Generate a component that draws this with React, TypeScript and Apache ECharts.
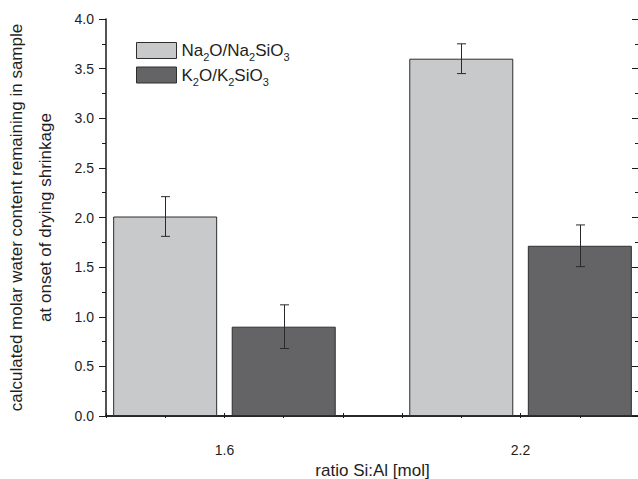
import React, { useEffect, useRef } from "react";
import * as echarts from "echarts";

// ---- data ----
const ratioCategories = [1.6, 2.2];
const xTickValues = [1.36, 1.48, 1.6, 1.72, 1.84, 1.96, 2.08, 2.2, 2.32, 2.44];
const naName = "Na2O/Na2SiO3";
const kName = "K2O/K2SiO3";
const naValues = [2.01, 3.6];
const naErrors = [0.2, 0.15];
const kValues = [0.9, 1.715];
const kErrors = [0.22, 0.21];
const yMin = 0;
const yMax = 4;
const yInterval = 0.5;

const FONT = "'Liberation Sans', Arial, sans-serif";
const TXT = "#1e1e1e";
const AX = "#1a1a1a";
const BAR_W = 104;
const BAR_GAP = 0.14;
const OFFSET = (BAR_W * (1 + BAR_GAP)) / 2;

function errorSeries(name: string, values: number[], errors: number[], sign: number) {
  const data = ratioCategories.map((x, i) => [x, values[i] - errors[i], values[i] + errors[i]]);
  return {
    type: "custom",
    name: name + " error",
    data,
    z: 5,
    silent: true,
    renderItem: (params: any, api: any) => {
      const x = api.value(0);
      const lo = api.coord([x, api.value(1)]);
      const hi = api.coord([x, api.value(2)]);
      const cx = Math.round(lo[0] + sign * OFFSET) + 0.5;
      const cap = 4.5;
      const st = { stroke: "#2a2a2a", lineWidth: 1 };
      return {
        type: "group",
        children: [
          { type: "line", shape: { x1: cx, y1: hi[1], x2: cx, y2: lo[1] }, style: st },
          { type: "line", shape: { x1: cx - cap, y1: hi[1], x2: cx + cap, y2: hi[1] }, style: st },
          { type: "line", shape: { x1: cx - cap, y1: lo[1], x2: cx + cap, y2: lo[1] }, style: st },
        ],
      };
    },
  };
}

function richName(name: string) {
  // turn digits into subscripts
  return name.replace(/([^0-9]+)|([0-9]+)/g, (m, a, d) => (a ? `{n|${a}}` : `{s|${d}}`));
}

export default function App() {
  const ref = useRef<HTMLDivElement>(null);
  useEffect(() => {
    if (!ref.current) return;
    const chart = echarts.init(ref.current, undefined, { renderer: "svg" });
    const xMin = xTickValues[0];
    const xMax = xTickValues[xTickValues.length - 1];
    const option: any = {
      animation: false,
      backgroundColor: "#ffffff",
      textStyle: { fontFamily: FONT },
      grid: { left: 106, top: 19, right: -1, bottom: 63, containLabel: false, outerBoundsMode: "none" },
      legend: {
        show: true,
        orient: "vertical",
        left: 131,
        top: 37,
        icon: "rect",
        itemWidth: 40,
        itemHeight: 16,
        itemGap: 4,
        data: [naName, kName],
        selectedMode: false,
        itemStyle: { borderColor: "#2e2e2e", borderWidth: 1 },
        formatter: (name: string) => richName(name),
        textStyle: {
          fontFamily: FONT,
          fontSize: 17,
          color: TXT,
          rich: {
            n: { fontSize: 17, color: TXT, fontFamily: FONT, lineHeight: 24 },
            s: { fontSize: 11, color: TXT, fontFamily: FONT, lineHeight: 2, verticalAlign: "bottom" },
          },
        },
      },
      xAxis: [
        {
          type: "value",
          position: "bottom",
          min: xMin,
          max: xMax,
          name: "ratio Si:Al [mol]",
          nameLocation: "middle",
          nameGap: 43,
          nameTextStyle: { fontSize: 17, color: TXT, fontFamily: FONT },
          axisLine: { show: true, lineStyle: { color: AX, width: 1.5 } },
          axisTick: { show: true, inside: true, length: 3, customValues: xTickValues, lineStyle: { color: AX } },
          axisLabel: {
            show: true,
            customValues: ratioCategories,
            formatter: (v: number) => v.toFixed(1),
            margin: 27,
            fontSize: 14,
            color: TXT,
            fontFamily: FONT,
          },
          splitLine: { show: false },
        },
        {
          type: "value",
          position: "top",
          min: xMin,
          max: xMax,
          axisLine: { show: true, lineStyle: { color: AX, width: 1.5 } },
          axisTick: { show: true, inside: true, length: 2, customValues: xTickValues, lineStyle: { color: AX } },
          axisLabel: { show: false },
          splitLine: { show: false },
        },
      ],
      yAxis: [
        {
          type: "value",
          position: "left",
          min: yMin,
          max: yMax,
          interval: yInterval,
          name: "calculated molar water content remaining in sample\nat onset of drying shrinkage",
          nameLocation: "middle",
          nameGap: 46,
          nameTextStyle: { fontSize: 17, color: TXT, fontFamily: FONT, lineHeight: 29 },
          axisLine: { show: true, lineStyle: { color: AX, width: 1.5 } },
          axisTick: { show: true, inside: false, length: 7, lineStyle: { color: AX } },
          minorTick: { show: true, splitNumber: 2, length: 4, lineStyle: { color: AX } },
          axisLabel: {
            show: true,
            margin: 12,
            fontSize: 14,
            color: TXT,
            fontFamily: FONT,
            formatter: (v: number) => v.toFixed(1),
          },
          splitLine: { show: false },
        },
        {
          type: "value",
          position: "right",
          min: yMin,
          max: yMax,
          interval: yInterval,
          axisLine: { show: false },
          axisTick: { show: true, inside: true, length: 7, lineStyle: { color: AX } },
          minorTick: { show: true, splitNumber: 2, length: 4, lineStyle: { color: AX } },
          axisLabel: { show: false },
          splitLine: { show: false },
        },
      ],
      series: [
        {
          type: "bar",
          name: naName,
          data: ratioCategories.map((x, i) => [x, naValues[i]]),
          barWidth: BAR_W,
          barGap: "14%",
          itemStyle: { color: "#c8c9cb", borderColor: "#2e2e2e", borderWidth: 1 },
        },
        {
          type: "bar",
          name: kName,
          data: ratioCategories.map((x, i) => [x, kValues[i]]),
          barWidth: BAR_W,
          barGap: "14%",
          itemStyle: { color: "#646466", borderColor: "#2e2e2e", borderWidth: 1 },
        },
        errorSeries(naName, naValues, naErrors, -1),
        errorSeries(kName, kValues, kErrors, 1),
      ],
    };
    chart.setOption(option);
    return () => chart.dispose();
  }, []);
  return (
    <div
      ref={ref}
      style={{ position: "fixed", left: 0, top: 0, width: 638, height: 479, background: "#fff" }}
    />
  );
}
